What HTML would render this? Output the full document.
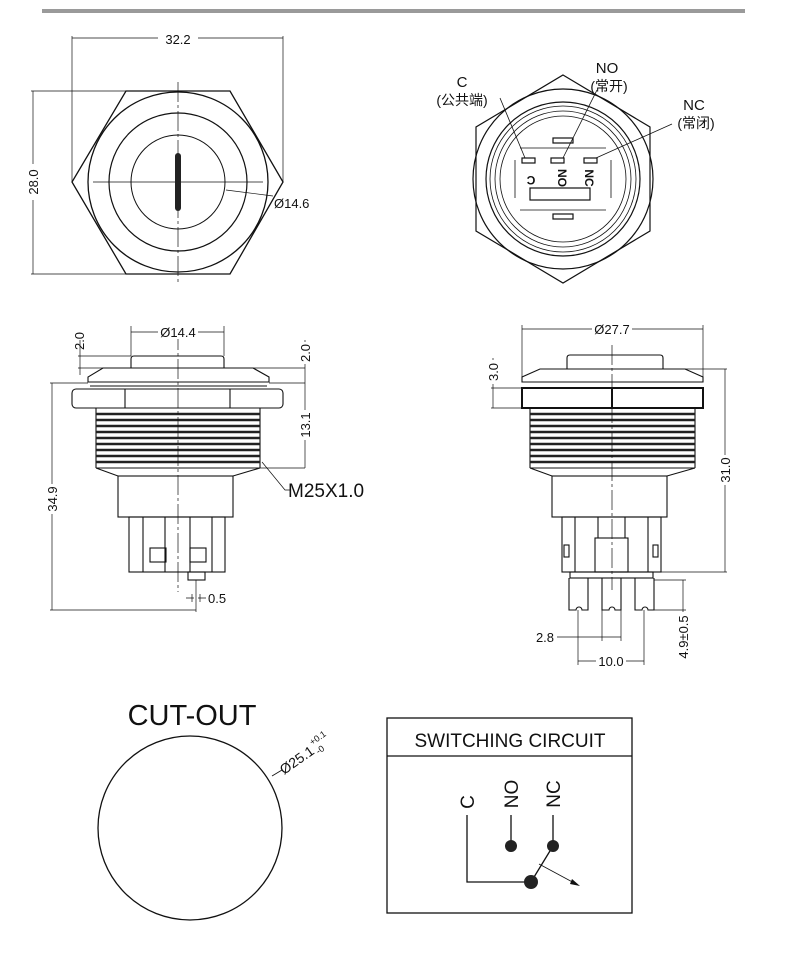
<!DOCTYPE html>
<html><head><meta charset="utf-8"><style>
html,body{margin:0;padding:0;background:#fff}
svg{display:block}
text{font-family:"Liberation Sans","Noto Sans CJK SC",sans-serif;fill:#111}
</style></head><body>
<svg width="790" height="958" viewBox="0 0 790 958" xmlns="http://www.w3.org/2000/svg">
<rect x="42" y="9" width="703" height="4" fill="#9a9a9a"/>
<g fill="none" stroke="#111" stroke-width="1">
<polygon points="126,91 230,91 283,182 230,274 126,274 72,182" stroke-width="1.3"/>
<circle cx="178" cy="182" r="90" stroke-width="1.3"/>
<circle cx="178" cy="182" r="69" stroke-width="1.2"/>
<circle cx="178" cy="182" r="47"/>
<line x1="93" y1="182" x2="263" y2="182" stroke-width="0.7"/>
<line x1="178" y1="82" x2="178" y2="285" stroke-width="0.7" stroke-dasharray="20,3,3,3"/>
<line x1="72" y1="38" x2="283" y2="38" stroke-width="0.7"/>
<line x1="72" y1="36" x2="72" y2="182" stroke-width="0.7"/>
<line x1="283" y1="36" x2="283" y2="182" stroke-width="0.7"/>
<line x1="33" y1="91" x2="33" y2="274" stroke-width="0.7"/>
<line x1="31" y1="91" x2="126" y2="91" stroke-width="0.7"/>
<line x1="31" y1="274" x2="126" y2="274" stroke-width="0.7"/>
<line x1="226" y1="190" x2="273" y2="196" stroke-width="0.7"/>
</g>
<rect x="175" y="153" width="6" height="58" rx="3" fill="#222"/>
<rect x="158" y="31" width="40" height="14" fill="#fff"/>
<text x="178" y="44" font-size="13" text-anchor="middle">32.2</text>
<rect x="26" y="164" width="14" height="36" fill="#fff"/>
<text transform="translate(38,182) rotate(-90)" font-size="13" text-anchor="middle">28.0</text>
<text x="274" y="208" font-size="13">Ø14.6</text>

<g fill="none" stroke="#111" stroke-width="1.2">
<polygon points="563,75 650,127 650,231 563,283 476,231 476,127"/>
<circle cx="563" cy="179" r="90"/>
<circle cx="563" cy="179" r="77"/>
<circle cx="563" cy="179" r="73" stroke-width="0.8"/>
<circle cx="563" cy="179" r="68" stroke-width="0.8"/>
<circle cx="563" cy="179" r="63" stroke-width="0.8"/>
<path d="M520,148 L606,148 M520,210 L606,210" stroke-width="0.8"/>
<path d="M515,160 V198 M611,160 V198" stroke-width="0.8"/>
<rect x="553" y="138" width="20" height="5"/>
<rect x="553" y="214" width="20" height="5"/>
<rect x="522" y="158" width="13" height="5"/>
<rect x="551" y="158" width="13" height="5"/>
<rect x="584" y="158" width="13" height="5"/>
<rect x="530" y="188" width="60" height="12"/>
<line x1="500" y1="98" x2="525" y2="158" stroke-width="0.8"/>
<line x1="597" y1="90" x2="563" y2="158" stroke-width="0.8"/>
<line x1="672" y1="124" x2="596" y2="158" stroke-width="0.8"/>
</g>
<text transform="translate(531,176) rotate(180)" font-size="12" font-weight="bold" text-anchor="middle">C</text>
<text transform="translate(558,178) rotate(90)" font-size="12" font-weight="bold" text-anchor="middle">NO</text>
<text transform="translate(585,178) rotate(90)" font-size="12" font-weight="bold" text-anchor="middle">NC</text>
<text x="462" y="87" font-size="15" text-anchor="middle">C</text>
<text x="462" y="105" font-size="14" text-anchor="middle">(公共端)</text>
<text x="607" y="73" font-size="15" text-anchor="middle">NO</text>
<text x="609" y="91" font-size="14" text-anchor="middle">(常开)</text>
<text x="694" y="110" font-size="15" text-anchor="middle">NC</text>
<text x="696" y="128" font-size="14" text-anchor="middle">(常闭)</text>

<g fill="none" stroke="#111" stroke-width="1.1">
<path d="M131,368 L131,359 Q131,356 134,356 L221,356 Q224,356 224,359 L224,368"/>
<path d="M103,368 L253,368 L269,377 L269,382 L88,382 L88,377 Z"/>
<line x1="90" y1="386" x2="267" y2="386"/>
<rect x="72" y="389" width="211" height="19" rx="4"/>
<line x1="125" y1="389" x2="125" y2="408"/><line x1="230" y1="389" x2="230" y2="408"/>
<path d="M96,408 L260,408 M96,468 L260,468 M96,408 L96,468 M260,408 L260,468"/>
<path d="M96,468 L118,476 L233,476 L260,468"/>
<rect x="118" y="476" width="115" height="41"/>
<rect x="129" y="517" width="96" height="55"/>
<path d="M143,517 V572 M165,517 V572 M190,517 V572 M212,517 V572"/>
<rect x="150" y="548" width="16" height="14"/><rect x="190" y="548" width="16" height="14"/>
<rect x="188" y="572" width="17" height="8"/>
</g>
<g stroke="#222" stroke-width="2.6" fill="none">
<path d="M96,414 H260 M96,420 H260 M96,426 H260 M96,432 H260 M96,438 H260 M96,444 H260 M96,450 H260 M96,456 H260 M96,462 H260"/>
</g>
<g stroke="#111" stroke-width="0.7" fill="none">
<line x1="178" y1="330" x2="178" y2="592" stroke-dasharray="20,3,3,3"/>
<line x1="196" y1="580" x2="196" y2="612"/>
<line x1="131" y1="332" x2="224" y2="332"/>
<line x1="131" y1="326" x2="131" y2="356"/><line x1="224" y1="326" x2="224" y2="356"/>
<line x1="78" y1="356" x2="131" y2="356"/><line x1="78" y1="368" x2="103" y2="368"/>
<line x1="80" y1="340" x2="80" y2="375"/>
<line x1="253" y1="368" x2="305" y2="368"/><line x1="269" y1="383" x2="305" y2="383"/>
<line x1="305" y1="340" x2="305" y2="468"/>
<line x1="260" y1="468" x2="305" y2="468"/>
<line x1="52" y1="383" x2="52" y2="610"/>
<line x1="50" y1="383" x2="88" y2="383"/><line x1="50" y1="610" x2="196" y2="610"/>
<path d="M262,462 L285,490 L290,490"/>
<path d="M186,598 H194 M198,598 H206 M192,594 V602 M200,594 V602"/>
</g>
<rect x="158" y="325" width="40" height="14" fill="#fff"/>
<text x="178" y="337" font-size="13" text-anchor="middle">Ø14.4</text>
<text transform="translate(84,341) rotate(-90)" font-size="13" text-anchor="middle">2.0</text>
<rect x="298" y="342" width="14" height="22" fill="#fff"/>
<text transform="translate(310,353) rotate(-90)" font-size="13" text-anchor="middle">2.0</text>
<rect x="298" y="410" width="14" height="30" fill="#fff"/>
<text transform="translate(310,425) rotate(-90)" font-size="13" text-anchor="middle">13.1</text>
<rect x="45" y="484" width="14" height="30" fill="#fff"/>
<text transform="translate(57,499) rotate(-90)" font-size="13" text-anchor="middle">34.9</text>
<text x="288" y="497" font-size="19">M25X1.0</text>
<text x="208" y="603" font-size="13">0.5</text>

<g fill="none" stroke="#111" stroke-width="1.1">
<path d="M567,369 L567,358 Q567,355 570,355 L660,355 Q663,355 663,358 L663,369"/>
<path d="M540,369 L685,369 L703,377 L703,382 L522,382 L522,377 Z"/>
<rect x="522" y="388" width="181" height="20" stroke-width="2"/>
<line x1="612" y1="388" x2="612" y2="408" stroke-width="2"/>
<path d="M530,408 V468 M695,408 V468 M530,408 H695 M530,468 H695"/>
<path d="M530,468 L552,476 L667,476 L695,468"/>
<rect x="552" y="476" width="115" height="41"/>
<rect x="562" y="517" width="99" height="55"/>
<path d="M575,517 V572 M598,517 V538 M625,517 V538 M648,517 V572"/>
<rect x="595" y="538" width="33" height="34"/>
<rect x="564" y="545" width="5" height="12"/><rect x="653" y="545" width="5" height="12"/>
<rect x="570" y="572" width="83" height="6"/>
<path d="M569,578 V610 H576 A3,3 0 0 1 582,610 H588 V578"/>
<path d="M602,578 V610 H609 A3,3 0 0 1 615,610 H621 V578"/>
<path d="M635,578 V610 H642 A3,3 0 0 1 648,610 H654 V578"/>
</g>
<g stroke="#222" stroke-width="2.6" fill="none">
<path d="M530,414 H695 M530,420 H695 M530,426 H695 M530,432 H695 M530,438 H695 M530,444 H695 M530,450 H695 M530,456 H695 M530,462 H695"/>
</g>
<g stroke="#111" stroke-width="0.7" fill="none">
<line x1="612" y1="345" x2="612" y2="590" stroke-dasharray="20,3,3,3"/>
<line x1="522" y1="329" x2="703" y2="329"/>
<line x1="522" y1="325" x2="522" y2="378"/><line x1="703" y1="325" x2="703" y2="378"/>
<line x1="685" y1="369" x2="727" y2="369"/><line x1="653" y1="572" x2="727" y2="572"/>
<line x1="725" y1="369" x2="725" y2="572"/>
<line x1="493" y1="358" x2="493" y2="408"/>
<line x1="491" y1="388" x2="522" y2="388"/><line x1="491" y1="408" x2="522" y2="408"/>
<line x1="683" y1="580" x2="683" y2="660"/>
<line x1="654" y1="580" x2="686" y2="580"/><line x1="654" y1="610" x2="686" y2="610"/>
<line x1="602" y1="610" x2="602" y2="641"/><line x1="621" y1="610" x2="621" y2="641"/>
<line x1="557" y1="637" x2="621" y2="637"/>
<line x1="578" y1="610" x2="578" y2="665"/><line x1="644" y1="610" x2="644" y2="665"/>
<line x1="578" y1="661" x2="644" y2="661"/>
</g>
<rect x="592" y="322" width="40" height="14" fill="#fff"/>
<text x="612" y="334" font-size="13" text-anchor="middle">Ø27.7</text>
<rect x="486" y="360" width="14" height="24" fill="#fff"/>
<text transform="translate(498,372) rotate(-90)" font-size="13" text-anchor="middle">3.0</text>
<rect x="718" y="455" width="14" height="30" fill="#fff"/>
<text transform="translate(730,470) rotate(-90)" font-size="13" text-anchor="middle">31.0</text>
<rect x="676" y="612" width="14" height="50" fill="#fff"/>
<text transform="translate(688,637) rotate(-90)" font-size="13" text-anchor="middle">4.9±0.5</text>
<text x="545" y="642" font-size="13" text-anchor="middle">2.8</text>
<rect x="596" y="654" width="30" height="14" fill="#fff"/>
<text x="611" y="666" font-size="13" text-anchor="middle">10.0</text>

<text x="192" y="725" font-size="29" text-anchor="middle">CUT-OUT</text>
<circle cx="190" cy="828" r="92" fill="none" stroke="#111" stroke-width="1.3"/>
<line x1="272" y1="776" x2="282" y2="770" stroke="#111" stroke-width="0.8"/>
<g transform="translate(284,775) rotate(-35)">
<text x="0" y="0" font-size="14">Ø25.1</text>
<text x="40" y="-8" font-size="9">+0.1</text>
<text x="40" y="3" font-size="9">-0</text>
</g>

<g fill="none" stroke="#111" stroke-width="1.3">
<rect x="387" y="718" width="245" height="195"/>
<line x1="387" y1="756" x2="632" y2="756"/>
<path d="M467,815 V882 H531"/>
<line x1="511" y1="815" x2="511" y2="845"/>
<line x1="553" y1="815" x2="553" y2="845"/>
<line x1="531" y1="882" x2="553" y2="846"/>
<line x1="539" y1="864" x2="578" y2="885" stroke-width="0.8"/>
</g>
<path d="M580,886 L572,879 L570,884 Z" fill="#111"/>
<circle cx="531" cy="882" r="7" fill="#222"/>
<circle cx="511" cy="846" r="6" fill="#222"/>
<circle cx="553" cy="846" r="6" fill="#222"/>
<text x="510" y="747" font-size="19" text-anchor="middle">SWITCHING CIRCUIT</text>
<text transform="translate(474,802) rotate(-90)" font-size="19" text-anchor="middle">C</text>
<text transform="translate(518,794) rotate(-90)" font-size="19" text-anchor="middle">NO</text>
<text transform="translate(560,794) rotate(-90)" font-size="19" text-anchor="middle">NC</text>
</svg>
</body></html>
